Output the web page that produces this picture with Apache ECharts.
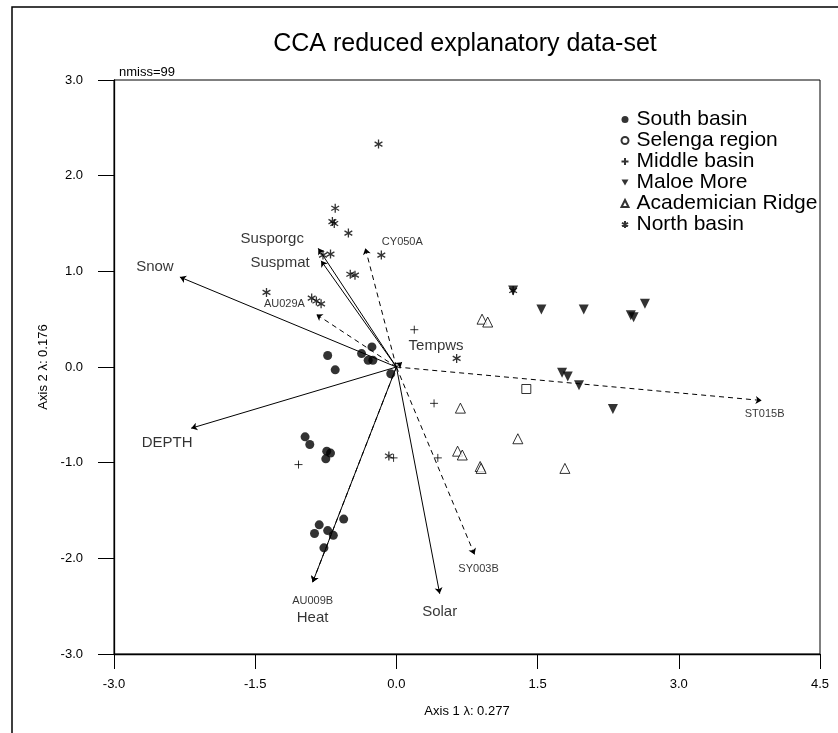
<!DOCTYPE html>
<html><head><meta charset="utf-8">
<script src="https://cdn.jsdelivr.net/npm/echarts@6/dist/echarts.min.js"></script>
<style>html,body{margin:0;padding:0;background:#fff}#c{width:838px;height:733px}</style>
</head><body><div id="c"></div>
<script>
// ---- data ----
const xTicks = [-3.0, -1.5, 0.0, 1.5, 3.0, 4.5];
const yTicks = [-3.0, -2.0, -1.0, 0.0, 1.0, 2.0, 3.0];

const southX = [-0.73,-0.65,-0.37,-0.26,-0.30,-0.25,-0.06,-0.97,-0.92,-0.74,-0.70,-0.75,-0.56,-0.82,-0.87,-0.73,-0.67,-0.77];
const southY = [0.12,-0.03,0.14,0.21,0.07,0.07,-0.07,-0.73,-0.81,-0.88,-0.90,-0.96,-1.59,-1.65,-1.74,-1.71,-1.76,-1.89];
const selengaX = [1.38];
const selengaY = [-0.23];
const middleX = [0.19,0.40,0.44,-0.03,-1.04];
const middleY = [0.39,-0.38,-0.95,-0.95,-1.02];
const maloeX = [1.24,1.54,1.99,2.49,2.52,2.64,1.76,1.82,1.94,2.30];
const maloeY = [0.80,0.60,0.60,0.54,0.52,0.66,-0.06,-0.10,-0.19,-0.44];
const acadX = [0.91,0.97,0.68,1.29,0.65,0.70,0.89,0.90,1.79];
const acadY = [0.50,0.47,-0.43,-0.75,-0.88,-0.92,-1.04,-1.06,-1.06];
const northX = [-0.19,-0.65,-0.68,-0.66,-0.51,-0.78,-0.70,-0.16,-0.49,-0.44,-1.38,-0.90,-0.85,-0.80,0.64,-0.08,1.24];
const northY = [2.33,1.66,1.52,1.50,1.40,1.17,1.18,1.17,0.97,0.96,0.78,0.72,0.69,0.66,0.09,-0.93,0.80];

const envNames = ['Snow','Susporgc','Suspmat','DEPTH','Heat','Solar','Tempws'];
const envX = [-2.30,-0.83,-0.80,-2.18,-0.89,0.46,0.06];
const envY = [0.94,1.24,1.11,-0.64,-2.25,-2.37,0.05];
const spNames = ['CY050A','AU029A','ST015B','SY003B','AU009B'];
const spX = [-0.33,-0.85,3.88,0.83,-0.89];
const spY = [1.24,0.55,-0.35,-1.96,-2.25];

const groupNames = ['South basin','Selenga region','Middle basin','Maloe More','Academician Ridge','North basin'];

// ---- styling ----
const FONT = '"Liberation Sans", Arial, Helvetica, sans-serif';
const labelOffsets = {
  Snow:[-25,-10], Susporgc:[-46,-10], Suspmat:[-41,2], DEPTH:[-24,15],
  Heat:[0,36], Solar:[0,18], Tempws:[34,-16],
  CY050A:[37,-6], AU029A:[-32,-10], ST015B:[3,13], SY003B:[4,14], AU009B:[0,19]
};
const zip = (xs, ys) => xs.map((x, i) => [x, ys[i]]);
const starPath = 'path://M0,-5L0,5M-4.33,-2.5L4.33,2.5M-4.33,2.5L4.33,-2.5';
const plusPath = 'path://M-5,0L5,0M0,-5L0,5';
const downTri = 'path://M0,0L10,0L5,8.66Z';
const legendIcons = {
  'South basin': 'circle', 'Selenga region': 'circle', 'Middle basin': plusPath,
  'Maloe More': downTri, 'Academician Ridge': 'triangle', 'North basin': starPath
};

function arrowSeries(names, xs, ys, dashed) {
  return {
    type: 'lines', coordinateSystem: 'cartesian2d', silent: true, z: 3,
    symbol: ['none', 'arrow'], symbolSize: 6,
    lineStyle: { color: '#000', width: 1, type: dashed ? [5, 4] : 'solid', opacity: 1 },
    data: names.map((n, i) => ({ coords: [[0, 0], [xs[i], ys[i]]] }))
  };
}
function labelSeries(names, xs, ys, size) {
  return {
    type: 'scatter', silent: true, symbolSize: 0, z: 4,
    data: names.map((n, i) => ({
      value: [xs[i], ys[i]], name: n,
      label: { show: true, position: 'inside', offset: labelOffsets[n], formatter: n,
        color: '#000', fontSize: size, fontFamily: FONT }
    }))
  };
}

const chart = echarts.init(document.getElementById('c'), null, { renderer: 'canvas' });
chart.setOption({
  animation: false,
  backgroundColor: '#fff',
  graphic: [
    { type: 'rect', shape: { x: 12, y: 7, width: 900, height: 900 }, style: { fill: 'none', stroke: '#000', lineWidth: 1.5 }, z: 0 },
    { type: 'text', x: 465, y: 44, style: { text: 'CCA reduced explanatory data-set', fontSize: 25, fontFamily: FONT, fill: '#000', textAlign: 'center', textVerticalAlign: 'middle' } },
    { type: 'text', x: 119, y: 72, style: { text: 'nmiss=99', fontSize: 13, fontFamily: FONT, fill: '#000', textVerticalAlign: 'middle' } }
  ],
  grid: { left: 114, right: 18, top: 80, bottom: 79, show: true, borderColor: '#000', borderWidth: 1, backgroundColor: 'transparent' },
  legend: {
    orient: 'vertical', left: 614, top: 104, itemWidth: 7, itemHeight: 7, itemGap: 0,
    textStyle: { fontSize: 21, color: '#000', fontFamily: FONT, padding: [0, 0, 0, 3] },
    data: groupNames.map(n => ({ name: n, icon: legendIcons[n] })),
    selectedMode: false
  },
  xAxis: {
    type: 'value', min: xTicks[0], max: xTicks[xTicks.length - 1], interval: 1.5,
    name: 'Axis 1 λ: 0.277', nameLocation: 'middle', nameGap: 51,
    nameTextStyle: { fontSize: 13, color: '#000', fontFamily: FONT },
    axisLine: { show: true, onZero: false, lineStyle: { color: '#000', width: 1.3 } },
    axisTick: { show: true, inside: false, length: 15, lineStyle: { color: '#000' } },
    axisLabel: { color: '#000', fontSize: 13, fontFamily: FONT, margin: 24, formatter: v => v.toFixed(1) },
    splitLine: { show: false }
  },
  yAxis: {
    type: 'value', min: yTicks[0], max: yTicks[yTicks.length - 1], interval: 1,
    name: 'Axis 2 λ: 0.176', nameLocation: 'middle', nameGap: 62, nameRotate: 90,
    nameTextStyle: { fontSize: 13, color: '#000', fontFamily: FONT },
    axisLine: { show: true, onZero: false, lineStyle: { color: '#000', width: 1.3 } },
    axisTick: { show: true, inside: false, length: 16, lineStyle: { color: '#000' } },
    axisLabel: { color: '#000', fontSize: 13, fontFamily: FONT, margin: 31, formatter: v => v.toFixed(1) },
    splitLine: { show: false }
  },
  series: [
    { name: 'South basin', type: 'scatter', symbol: 'circle', symbolSize: 9, z: 5,
      itemStyle: { color: '#000' }, data: zip(southX, southY) },
    { name: 'Selenga region', type: 'scatter', symbol: 'rect', symbolSize: 9, z: 5,
      itemStyle: { color: '#fff', borderColor: '#000', borderWidth: 1 }, data: zip(selengaX, selengaY) },
    { name: 'Middle basin', type: 'scatter', symbol: plusPath, symbolSize: 8, symbolKeepAspect: true, z: 5,
      itemStyle: { color: 'none', borderColor: '#000', borderWidth: 1 }, data: zip(middleX, middleY) },
    { name: 'Maloe More', type: 'scatter', symbol: 'triangle', symbolRotate: 180, symbolSize: 10, z: 5,
      itemStyle: { color: '#000' }, data: zip(maloeX, maloeY) },
    { name: 'Academician Ridge', type: 'scatter', symbol: 'triangle', symbolSize: 10, z: 5,
      itemStyle: { color: '#fff', borderColor: '#000', borderWidth: 1 }, data: zip(acadX, acadY) },
    { name: 'North basin', type: 'scatter', symbol: starPath, symbolSize: 9, symbolKeepAspect: true, z: 6,
      itemStyle: { color: 'none', borderColor: '#000', borderWidth: 1.3 }, data: zip(northX, northY) },
    arrowSeries(envNames, envX, envY, false),
    arrowSeries(spNames, spX, spY, true),
    labelSeries(envNames, envX, envY, 15),
    labelSeries(spNames, spX, spY, 11)
  ]
});
</script>
</body></html>
